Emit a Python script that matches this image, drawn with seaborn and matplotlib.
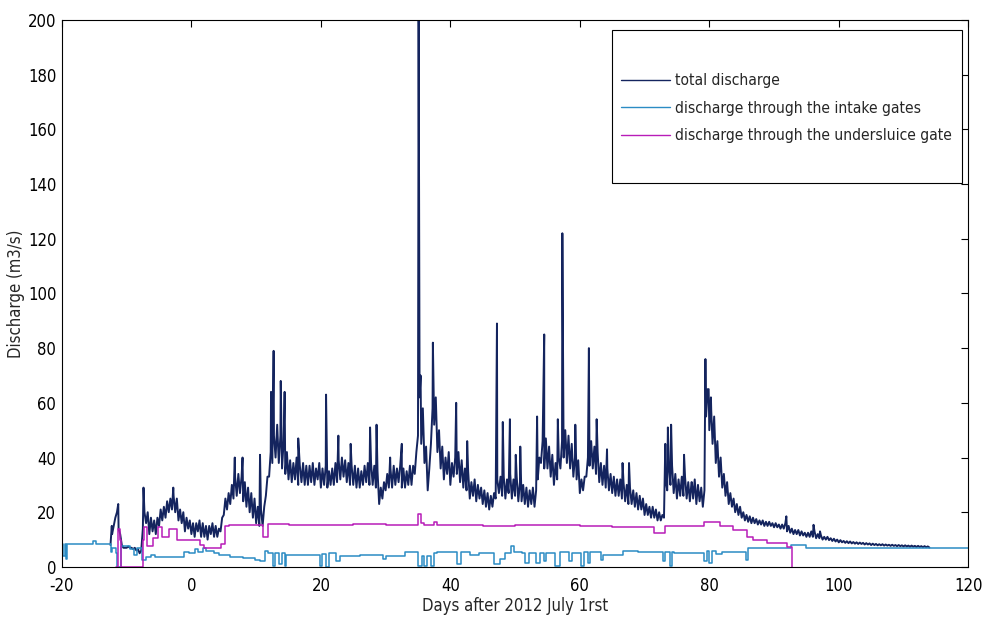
import numpy as np
import pandas as pd
import matplotlib
matplotlib.use("Agg")
import matplotlib.pyplot as plt
from matplotlib.patches import Rectangle
import seaborn as sns

# ---------------- data ----------------
# total discharge, sampled every quarter day starting at day -12.5
total_start = -12.5
total_step = 0.25
total_vals = [
    8, 12,                      # -12.5
    15, 18, 20, 14,             # -12
    12, 8, 7, 7,                # -11
    7, 7.5, 7, 7,               # -10
    6.5, 7, 6, 6.5,             # -9
    5, 6, 14, 20,               # -8
    16, 20, 12, 18,             # -7
    13, 17, 12, 18,             # -6
    15, 21, 17, 22,             # -5
    18, 24, 20, 25,             # -4
    21, 26, 20, 25,             # -3
    17, 21, 16, 20,             # -2
    13, 18, 14, 17,             # -1
    12, 16, 11, 16,             # 0
    13, 17, 11, 16,             # 1
    11, 15, 10, 15,             # 2
    12, 16, 11, 15,             # 3
    11, 14, 13, 18,             # 4
    19, 25, 21, 27,             # 5
    23, 30, 25, 33,             # 6
    26, 34, 27, 33,             # 7
    24, 31, 22, 29,             # 8
    20, 27, 18, 25,             # 9
    16, 22, 15, 21,             # 10
    15, 22, 26, 33,             # 11
    33, 42, 38, 48,             # 12
    40, 52, 38, 48,             # 13
    36, 46, 34, 42,             # 14
    32, 39, 31, 38,             # 15
    32, 40, 30, 37,             # 16
    31, 38, 30, 37,             # 17
    30, 37, 31, 38,             # 18
    30, 36, 32, 38,             # 19
    29, 36, 30, 37,             # 20
    29, 35, 30, 36,             # 21
    30, 38, 31, 39,             # 22
    32, 40, 33, 39,             # 23
    31, 38, 30, 37,             # 24
    30, 37, 29, 36,             # 25
    29, 35, 30, 37,             # 26
    31, 38, 30, 38,             # 27
    30, 37, 29, 35,             # 28
    23, 29, 25, 31,             # 29
    28, 34, 29, 36,             # 30
    29, 37, 30, 36,             # 31
    31, 37, 29, 36,             # 32
    29, 35, 30, 37,             # 33
    30, 37, 34, 42,             # 34
    48, 62, 45, 58,             # 35
    38, 44, 28, 36,             # 36
    45, 58, 52, 62,             # 37
    42, 50, 36, 44,             # 38
    32, 40, 34, 42,             # 39
    30, 38, 33, 40,             # 40
    34, 42, 31, 39,             # 41
    29, 36, 28, 35,             # 42
    25, 31, 26, 32,             # 43
    24, 30, 25, 29,             # 44
    23, 28, 22, 27,             # 45
    21, 26, 22, 27,             # 46
    25, 32, 27, 33,             # 47
    26, 33, 25, 32,             # 48
    27, 34, 25, 32,             # 49
    26, 33, 24, 31,             # 50
    24, 30, 23, 29,             # 51
    22, 28, 23, 29,             # 52
    22, 28, 32, 40,             # 53
    38, 46, 36, 47,             # 54
    36, 44, 33, 41,             # 55
    30, 38, 32, 40,             # 56
    36, 46, 40, 50,             # 57
    38, 48, 36, 45,             # 58
    33, 40, 32, 39,             # 59
    27, 32, 28, 33,             # 60
    33, 40, 37, 46,             # 61
    36, 44, 34, 42,             # 62
    31, 38, 30, 37,             # 63
    29, 36, 28, 34,             # 64
    27, 33, 26, 32,             # 65
    26, 32, 25, 31,             # 66
    24, 30, 23, 29,             # 67
    23, 28, 22, 27,             # 68
    21, 26, 21, 25,             # 69
    19, 23, 19, 22,             # 70
    18, 22, 18, 21,             # 71
    17, 20, 17, 19,             # 72
    18, 32, 28, 37,             # 73
    30, 37, 27, 34,             # 74
    25, 32, 26, 33,             # 75
    26, 33, 25, 31,             # 76
    24, 31, 25, 32,             # 77
    23, 30, 24, 29,             # 78
    22, 28, 55, 65,             # 79
    50, 62, 45, 55,             # 80
    38, 46, 33, 40,             # 81
    29, 34, 26, 31,             # 82
    23, 27, 22, 25,             # 83
    20, 23, 19, 22,             # 84
    18, 20, 17, 19,             # 85
    16.5, 18.5, 16, 18,         # 86
    16, 17.5, 15.5, 17,         # 87
    15.5, 17, 15, 16.5,         # 88
    15, 16.5, 15, 16,           # 89
    14.5, 16, 14.5, 15.5,       # 90
    14, 15.5, 14, 16,           # 91
    13, 15, 12.5, 14,           # 92
    12, 13.5, 12, 13.5,         # 93
    11.5, 13, 11.5, 12.5,       # 94
    11, 12.5, 11, 13,           # 95
    11, 13, 10.5, 12,           # 96
    10.5, 11.5, 10, 11,         # 97
    10, 11, 9.8, 10.5,          # 98
    9.5, 10.3, 9.3, 10,         # 99
    9, 9.8, 9, 9.5,             # 100
    8.8, 9.4, 8.7, 9.3,         # 101
    8.6, 9.1, 8.5, 9,           # 102
    8.4, 8.9, 8.4, 8.8,         # 103
    8.2, 8.7, 8.2, 8.6,         # 104
    8, 8.5, 8, 8.4,             # 105
    7.9, 8.3, 7.9, 8.3,         # 106
    7.8, 8.2, 7.8, 8.1,         # 107
    7.7, 8.1, 7.7, 8,           # 108
    7.6, 8, 7.6, 7.9,           # 109
    7.5, 7.9, 7.5, 7.8,         # 110
    7.4, 7.8, 7.4, 7.7,         # 111
    7.3, 7.7, 7.3, 7.6,         # 112
    7.2, 7.6, 7.2, 7.5,         # 113
    7.1,                        # 114
]
# isolated peaks of the total discharge
spike_days = [-12.3, -11.3, -7.4, -2.8, 6.7, 7.9, 10.6, 12.3, 12.7, 13.8, 14.4,
              16.5, 20.8, 22.7, 24.6, 27.6, 28.6, 30.7, 32.5, 35.1, 35.4, 37.3,
              40.9, 42.6, 47.2, 48.1, 49.2, 50.1, 50.8, 53.4, 54.5, 56.6, 57.3,
              59.3, 61.4, 62.6, 64.2, 66.6, 67.6, 73.2, 73.6, 74.1, 76.1, 77.3,
              79.4, 79.9, 80.3, 91.9, 96.1, 97.1]
spike_vals = [15, 23, 29, 29, 40, 40, 41, 64, 79, 68, 64,
              47, 63, 48, 45, 51, 52, 40, 45, 200, 70, 82,
              60, 46, 89, 53, 54, 41, 44, 55, 85, 54, 122,
              52, 80, 54, 43, 38, 38, 45, 51, 52, 41, 31,
              76, 65, 57, 18.5, 15.4, 13]

# discharge through the intake gates (step series)
intake_days = [-20, -19.8, -19.6, -19.4, -19.2, -15.2, -14.8, -12.4, -12.2, -11.6,
               -11.5, -10.8, -9.5, -8.8, -8.4, -7.6, -7.0, -6.2, -5.6, -4.0,
               -1.2, -0.4, 0.5, 1.0, 1.8, 2.2, 3.5, 4.2, 6.0, 8.0,
               9.8, 10.6, 11.4, 11.8, 12.6, 12.9, 13.6, 14.0, 14.4, 14.6,
               16.0, 19.8, 20.2, 20.8, 21.2, 22.4, 23.0, 26.0, 29.6, 30.0,
               33.0, 35.0, 35.6, 36.0, 36.4, 37.0, 37.4, 38.0, 41.0, 41.6,
               43.0, 44.5, 46.8, 47.6, 48.5, 49.3, 49.8, 51.0, 51.6, 52.2,
               53.2, 53.8, 54.4, 54.8, 56.2, 57.0, 58.4, 58.8, 60.2, 60.6,
               61.2, 61.6, 63.2, 63.6, 65.0, 66.6, 69.0, 72.8, 73.2, 73.9,
               74.2, 74.5, 79.2, 79.6, 80.0, 80.4, 81.0, 82.0, 85.6, 86.0,
               88.0, 92.6, 95.0, 120.0]
intake_vals = [8.5, 4, 8.5, 3, 8.5, 9.5, 8.5, 5.5, 7, 5,
               0, 7.5, 6.5, 4.5, 7, 2.5, 3.5, 4.5, 3.5, 3.8,
               5.5, 5, 6.5, 5.5, 6.8, 5.8, 5, 4.2, 3.6, 3.4,
               2.5, 2, 6, 5, 0.5, 5, 1, 5, 0.5, 4.5,
               4.2, 0.5, 4.8, 0, 5, 2, 4, 4.5, 3, 4,
               5.5, 0.5, 4, 0.5, 4, 0.5, 5, 5.5, 1, 5.5,
               4.5, 5, 1, 3, 5, 7.5, 5.5, 5, 1.5, 5,
               1.5, 5, 2, 5, 0.5, 5.5, 2, 5, 0.5, 5.5,
               1.5, 5.5, 2.5, 4.5, 4.3, 6, 5.3, 2, 5.5, 0.5,
               5.5, 5.2, 2, 6, 1.5, 5.8, 4.8, 5.5, 2.6, 6.8,
               7, 8, 7, 7]

# discharge through the undersluice gate (step series)
sluice_days = [-11.6, -11.3, -11.0, -10.8, -7.6, -7.5, -7.3, -6.9, -6.0, -5.2,
               -4.6, -3.5, -2.2, 1.3, 1.9, 4.6, 5.2, 5.8, 11.1, 11.8,
               15.0, 20.0, 25.0, 30.0, 35.0, 35.5, 36.0, 37.4, 38.0, 45.0,
               50.0, 55.0, 58.0, 60.0, 65.0, 71.4, 73.2, 79.2, 81.7, 83.7,
               85.8, 86.8, 88.9, 92.0, 92.7]
sluice_vals = [0, 14, 10, 0, 0, 10, 14.5, 7.5, 10.5, 14.5,
               11, 14, 10, 8, 7, 8.5, 14.8, 15.3, 11, 15.8,
               15.5, 15.2, 15.6, 15.2, 19.5, 16, 15.3, 16.5, 15.3, 15,
               15.4, 15.5, 15.2, 14.8, 14.5, 12.5, 15, 16.3, 14.8, 13.5,
               11, 9.8, 8.6, 7.4, 0]

labels = ["total discharge",
          "discharge through the intake gates",
          "discharge through the undersluice gate"]
colors = ["#14245e", "#2b8cc4", "#b81cb8"]

x_ticks = list(range(-20, 121, 20))
y_ticks = list(range(0, 201, 20))

# ---------------- build frames ----------------
grid_days = total_start + total_step * np.arange(len(total_vals))
tot = pd.DataFrame({"day": np.concatenate([grid_days, spike_days]),
                    "Q": np.concatenate([total_vals, spike_vals])}).sort_values("day")
intake = pd.DataFrame({"day": intake_days, "Q": intake_vals})
sluice = pd.DataFrame({"day": sluice_days, "Q": sluice_vals})

# ---------------- plot ----------------
sns.set_theme(style="white")
plt.rcParams["font.family"] = ["DejaVu Sans"]
plt.rcParams["font.stretch"] = "condensed"
plt.rcParams["axes.unicode_minus"] = False

fig = plt.figure(figsize=(9.83, 6.23), dpi=100)
ax = fig.add_axes([0.063, 0.090, 0.922, 0.878])

sns.lineplot(data=tot, x="day", y="Q", ax=ax, color=colors[0], lw=1.4,
             estimator=None, sort=False, label=labels[0])
sns.lineplot(data=intake, x="day", y="Q", ax=ax, color=colors[1], lw=1.1,
             estimator=None, sort=False, drawstyle="steps-post", label=labels[1])
sns.lineplot(data=sluice, x="day", y="Q", ax=ax, color=colors[2], lw=1.1,
             estimator=None, sort=False, drawstyle="steps-post", label=labels[2])

ax.set_xlim(-20, 120)
ax.set_ylim(0, 200)
ax.set_xticks(x_ticks)
ax.set_yticks(y_ticks)
ax.tick_params(direction="in", top=True, right=True, length=5, width=0.8,
               labelsize=12, colors="black", pad=4)
ax.tick_params(axis="x", pad=7.5)
for s in ax.spines.values():
    s.set_color("black")
    s.set_linewidth(0.8)
ax.set_xlabel("Days after 2012 July 1rst", fontsize=12, labelpad=1)
ax.set_ylabel("Discharge (m3/s)", fontsize=12, labelpad=2)

# legend: entries without frame, plus a separate box like the reference
ax.add_patch(Rectangle((0.607, 0.702), 0.3863, 0.2797, transform=ax.transAxes,
                       facecolor="white", edgecolor="black", lw=0.8, zorder=4))
leg = ax.legend(loc="center left", bbox_to_anchor=(0.617, 0.839),
                fontsize=11.2, frameon=False, borderpad=0,
                labelspacing=0.8, handlelength=3.15, handletextpad=0.32,
                borderaxespad=0)
leg.set_zorder(5)
for line in leg.get_lines():
    line.set_linewidth(1.0)

fig.savefig("out.png", dpi=100)
